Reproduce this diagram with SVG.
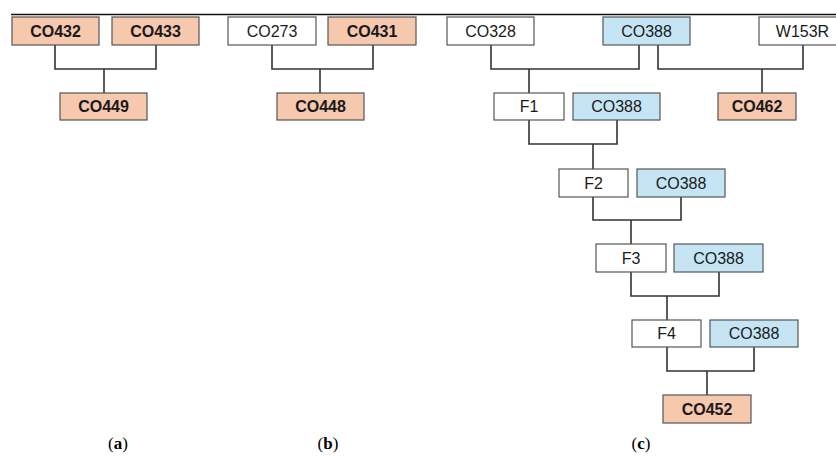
<svg xmlns="http://www.w3.org/2000/svg" width="836" height="456" viewBox="0 0 836 456">
<style>
rect{stroke:#555;stroke-width:1.2}
.w{fill:#fff}.s{fill:#f6c8ad}.b{fill:#c5e5f5}
text{font-family:"Liberation Sans",Arial,sans-serif;font-size:16px;fill:#1a1a1a;text-anchor:middle}
.bd{font-weight:bold}
.cap{font-family:"Liberation Serif","Times New Roman",serif;font-size:17px;fill:#000}
#connectors path{fill:none;stroke:#333;stroke-width:1.6}
</style>
<rect width="836" height="456" style="fill:#fff;stroke:none"/>
<line x1="11" y1="14.5" x2="836" y2="14.5" stroke="#111" stroke-width="1.3"/>
<g id="connectors">
<path d="M55,45V69H156V45M104,69V93"/>
<path d="M272,45V69H373V45M320,69V93"/>
<path d="M491,45V69H639V45M529,69V93"/>
<path d="M658,45V69H803V45M762,69V93"/>
<path d="M529,120V144H617V120M593,144V169"/>
<path d="M593,197V220H681V197M631,220V244"/>
<path d="M631,272V296H719V272M667,296V320"/>
<path d="M667,347V371H754V347M707,371V395"/>
</g>
<g id="CO432"><rect class="s" x="12" y="17" width="87" height="28"/><text class="bd" x="55.5" y="37">CO432</text></g>
<g id="CO433"><rect class="s" x="112" y="17" width="87" height="28"/><text class="bd" x="155.5" y="37">CO433</text></g>
<g id="CO449"><rect class="s" x="60" y="93" width="87" height="27"/><text class="bd" x="103.5" y="112">CO449</text></g>
<g id="CO273"><rect class="w" x="228" y="17" width="88" height="28"/><text x="272" y="37">CO273</text></g>
<g id="CO431"><rect class="s" x="328" y="17" width="88" height="28"/><text class="bd" x="372" y="37">CO431</text></g>
<g id="CO448"><rect class="s" x="277" y="93" width="87" height="27"/><text class="bd" x="320.5" y="112">CO448</text></g>
<g id="CO328"><rect class="w" x="447" y="17" width="87" height="28"/><text x="490.5" y="37">CO328</text></g>
<g id="CO388a"><rect class="b" x="603" y="17" width="87" height="28"/><text x="646.5" y="37">CO388</text></g>
<g id="W153R"><rect class="w" x="759" y="17" width="87" height="28"/><text x="802.5" y="37">W153R</text></g>
<g id="F1"><rect class="w" x="494" y="93" width="70" height="27"/><text x="529" y="112">F1</text></g>
<g id="CO388b"><rect class="b" x="573" y="93" width="87" height="27"/><text x="616.5" y="112">CO388</text></g>
<g id="CO462"><rect class="s" x="718" y="93" width="78" height="27"/><text class="bd" x="757" y="112">CO462</text></g>
<g id="F2"><rect class="w" x="559" y="169" width="69" height="28"/><text x="593.5" y="189">F2</text></g>
<g id="CO388c"><rect class="b" x="637" y="169" width="88" height="28"/><text x="681" y="189">CO388</text></g>
<g id="F3"><rect class="w" x="596" y="244" width="70" height="28"/><text x="631" y="264">F3</text></g>
<g id="CO388d"><rect class="b" x="674" y="244" width="89" height="28"/><text x="718.5" y="264">CO388</text></g>
<g id="F4"><rect class="w" x="632" y="320" width="69" height="27"/><text x="666.5" y="339">F4</text></g>
<g id="CO388e"><rect class="b" x="710" y="320" width="88" height="27"/><text x="754" y="339">CO388</text></g>
<g id="CO452"><rect class="s" x="663" y="395" width="88" height="28"/><text class="bd" x="707" y="415">CO452</text></g>
<text class="cap" x="118" y="449">(<tspan font-weight="bold">a</tspan>)</text>
<text class="cap" x="328" y="449">(<tspan font-weight="bold">b</tspan>)</text>
<text class="cap" x="641" y="449">(<tspan font-weight="bold">c</tspan>)</text>
</svg>
